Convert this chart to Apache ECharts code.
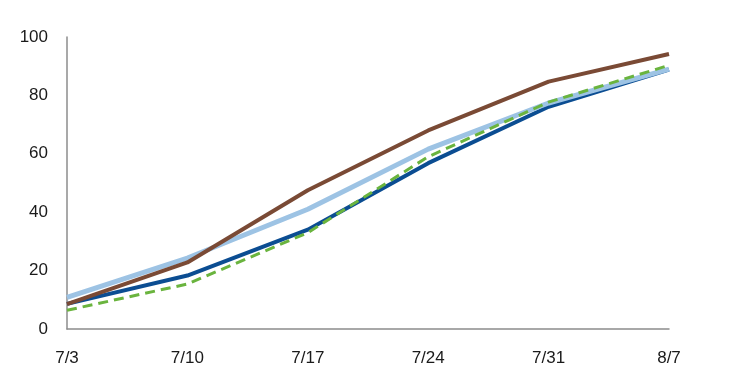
<!DOCTYPE html>
<html>
<head>
<meta charset="utf-8">
<script src="https://cdn.jsdelivr.net/npm/echarts@6/dist/echarts.min.js"></script>
<style>html,body{margin:0;padding:0;background:#fff;}#c{width:746px;height:386px;}</style>
</head>
<body>
<div id="c"></div>
<script>
const categories = ['7/3', '7/10', '7/17', '7/24', '7/31', '8/7'];
const brownSeries = [8.5, 22.8, 47.5, 68.0, 84.7, 94.2];
const lightBlueSeries = [10.8, 24.3, 41.0, 61.6, 77.4, 89.0];
const darkBlueSeries = [8.6, 18.3, 34.0, 56.8, 76.1, 88.8];
const greenSeries = [6.4, 15.4, 33.0, 59.0, 77.7, 90.3];
const yTicks = [0, 20, 40, 60, 80, 100];

const font = '"Liberation Sans Narrow", "Arial Narrow", "Liberation Sans", sans-serif';
const chart = echarts.init(document.getElementById('c'), null, {renderer: 'canvas'});
function line(data, color, width, type, z) {
  return {type: 'line', data: data, symbol: 'none', smooth: false, z: z,
    lineStyle: {color: color, width: width, type: type}};
}
chart.setOption({
  animation: false,
  grid: {left: 67, right: 77, top: 37, bottom: 57},
  xAxis: {
    type: 'category', data: categories, boundaryGap: false,
    axisLine: {lineStyle: {color: '#8c8c8c', width: 1.5}},
    axisTick: {show: false},
    axisLabel: {color: '#1a1a1a', fontFamily: font, fontSize: 17, margin: 21},
    splitLine: {show: false}
  },
  yAxis: {
    type: 'value', min: yTicks[0], max: yTicks[yTicks.length - 1], interval: 20,
    axisLine: {show: true, lineStyle: {color: '#8c8c8c', width: 1.5}},
    axisTick: {show: false},
    axisLabel: {color: '#1a1a1a', fontFamily: font, fontSize: 17, margin: 19},
    splitLine: {show: false}
  },
  series: [
    line(darkBlueSeries, '#0b4d92', 4, 'solid', 2),
    line(lightBlueSeries, '#9dc3e4', 5, 'solid', 3),
    line(brownSeries, '#7a4a35', 4, 'solid', 4),
    line(greenSeries, '#6ab43e', 3, [10, 6], 5)
  ]
});
</script>
</body>
</html>
